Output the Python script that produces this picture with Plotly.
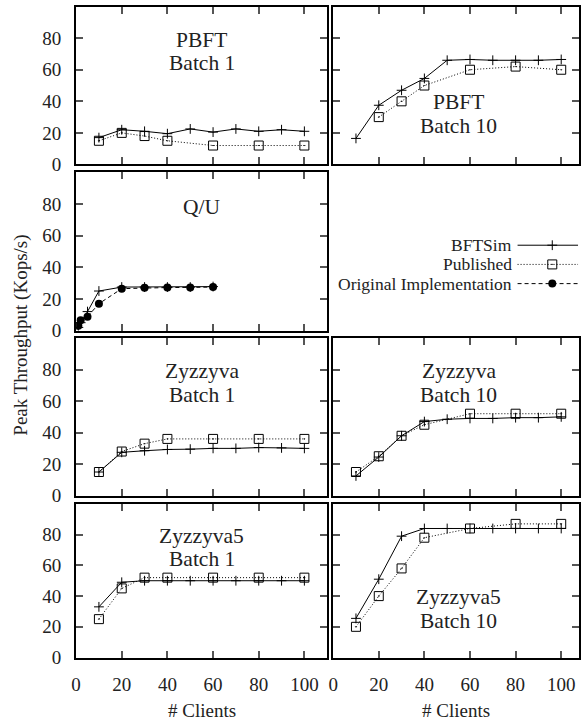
import plotly.graph_objects as go

# ---------------- data ----------------
clients_sim = [10, 20, 30, 40, 50, 60, 70, 80, 90, 100]
clients_pub = [10, 20, 30, 40, 60, 80, 100]
clients_pub_pbft10 = [20, 30, 40, 60, 80, 100]
clients_qu = [1, 2, 5, 10, 20, 30, 40, 50, 60]

pbft_b1_sim = [17, 22, 21, 19.5, 22.5, 20.5, 22.5, 21, 22, 21]
pbft_b1_pub = [15, 20, 18, 15, 12, 12, 12]

pbft_b10_sim = [16.5, 37.5, 47, 54.5, 66, 66.5, 66, 66, 66, 66.5]
pbft_b10_pub = [30, 40, 50, 60, 62, 60]

qu_sim = [2, 5, 12, 25, 27.5, 27.5, 27.5, 27.5, 27.8]
qu_orig = [3, 6.5, 8.8, 17, 26.5, 27, 27.2, 27.3, 27.5]

zyz_b1_sim = [15, 27.5, 28.5, 29.3, 29.5, 30, 30, 30.5, 30.3, 30]
zyz_b1_pub = [15, 28, 33, 36, 36, 36, 36]

zyz_b10_sim = [12.5, 24.5, 38, 47, 48.5, 49, 49, 49.5, 49.5, 50]
zyz_b10_pub = [15, 25, 38, 45, 52, 52, 52]

zyz5_b1_sim = [33, 49, 50, 50, 50, 50, 50, 50, 50, 50]
zyz5_b1_pub = [25, 45, 52, 52, 52, 52, 52]

zyz5_b10_sim = [25.5, 51, 79, 84, 84, 84, 84, 84, 84, 84]
zyz5_b10_pub = [20, 40, 58, 78, 84, 87, 87]

x_ticks = [0, 20, 40, 60, 80, 100]
y_ticks = [0, 20, 40, 60, 80]

# ---------------- layout geometry ----------------
W, H = 584, 723
FONT = "Liberation Serif, Times New Roman, serif"
TXT = "#222222"


def px_x(v):
    return v / W


def px_y(v):
    return 1 - v / H


left_dom = [px_x(71.7), px_x(325)]
right_dom = [px_x(331), px_x(578.5)]
rows = [(6.7, 167), (175, 335.7), (343.3, 503.3), (511.7, 667.7)]
row_dom = [[px_y(b), px_y(t)] for t, b in rows]

fig = go.Figure()

SIM = dict(mode="lines+markers", line=dict(color="black", width=1),
           marker=dict(symbol="cross-thin-open", size=7, color="black",
                       line=dict(color="black", width=1)))
PUB = dict(mode="lines+markers", line=dict(color="black", width=1, dash="1px,2px"),
           marker=dict(symbol="square-open-dot", size=9, color="black",
                       line=dict(color="black", width=1)))
ORIG = dict(mode="lines+markers", line=dict(color="black", width=1, dash="4px,3px"),
            marker=dict(symbol="circle", size=8, color="black"))

# panel: (axis index, column, row, series list, title lines, title x, title y's)
panels = [
    (1, 0, 0, [(clients_sim, pbft_b1_sim, SIM), (clients_pub, pbft_b1_pub, PUB)],
     ["PBFT", "Batch 1"], 55, [78.8, 64]),
    (2, 1, 0, [(clients_sim, pbft_b10_sim, SIM), (clients_pub_pbft10, pbft_b10_pub, PUB)],
     ["PBFT", "Batch 10"], 55, [39.3, 24.5]),
    (3, 0, 1, [(clients_qu, qu_sim, SIM), (clients_qu, qu_orig, ORIG)],
     ["Q/U"], 55, [78]),
    (4, 0, 2, [(clients_sim, zyz_b1_sim, SIM), (clients_pub, zyz_b1_pub, PUB)],
     ["Zyzzyva", "Batch 1"], 55, [78.8, 64]),
    (5, 1, 2, [(clients_sim, zyz_b10_sim, SIM), (clients_pub, zyz_b10_pub, PUB)],
     ["Zyzzyva", "Batch 10"], 55, [78.8, 64]),
    (6, 0, 3, [(clients_sim, zyz5_b1_sim, SIM), (clients_pub, zyz5_b1_pub, PUB)],
     ["Zyzzyva5", "Batch 1"], 55, [79.3, 64]),
    (7, 1, 3, [(clients_sim, zyz5_b10_sim, SIM), (clients_pub, zyz5_b10_pub, PUB)],
     ["Zyzzyva5", "Batch 10"], 55, [39.3, 24]),
]

annotations = []
axis_common = dict(showgrid=False, zeroline=False, showline=True, linecolor="black",
                   linewidth=2, mirror="allticks", ticks="inside", ticklen=7,
                   tickwidth=1.5, tickcolor="#555555",
                   tickfont=dict(family=FONT, size=19, color=TXT))

for idx, col, row, series, titles, tx, tys in panels:
    sfx = "" if idx == 1 else str(idx)
    xname, yname = "xaxis" + sfx, "yaxis" + sfx
    xref, yref = "x" + sfx, "y" + sfx
    for xs, ys, style in series:
        fig.add_trace(go.Scatter(x=xs, y=ys, xaxis=xref, yaxis=yref,
                                 showlegend=False, hoverinfo="skip", **style))
    fig.update_layout(**{
        xname: dict(axis_common, domain=left_dom if col == 0 else right_dom,
                    range=[0, 110] if col == 0 else [0, 107.6],
                    tickvals=x_ticks, showticklabels=(row == 3),
                    ticklabelstandoff=9, anchor=yref),
        yname: dict(axis_common, domain=row_dom[row], range=[0, 100],
                    tickvals=y_ticks, showticklabels=(col == 0),
                    ticklabelstandoff=9, anchor=xref),
    })
    for text, ty in zip(titles, tys):
        annotations.append(dict(text=text, x=tx, y=ty, xref=xref, yref=yref,
                                showarrow=False, xanchor="center", yanchor="middle",
                                font=dict(family=FONT, size=21.5, color=TXT)))

# legend key drawn in the empty panel (pixel-like coordinates)
legend_items = ["BFTSim", "Published", "Original Implementation"]
legend_styles = [SIM, PUB, ORIG]
legend_rows = [249, 268.5, 288]
fig.update_layout(
    xaxis8=dict(domain=right_dom, range=[331, 578.5], visible=False, anchor="y8"),
    yaxis8=dict(domain=row_dom[1], range=[rows[1][1], rows[1][0]], visible=False,
                anchor="x8"),
)
for name, style, ry in zip(legend_items, legend_styles, legend_rows):
    fig.add_trace(go.Scatter(x=[517, 578], y=[ry, ry], xaxis="x8", yaxis="y8",
                             mode="lines", line=style["line"], showlegend=False,
                             hoverinfo="skip"))
    fig.add_trace(go.Scatter(x=[552], y=[ry], xaxis="x8", yaxis="y8",
                             mode="markers", marker=style["marker"], showlegend=False,
                             hoverinfo="skip"))
    annotations.append(dict(text=name, x=513.3, y=ry, xref="x8", yref="y8",
                            showarrow=False, xanchor="right", yanchor="middle",
                            font=dict(family=FONT, size=17.5, color=TXT)))

# axis titles
annotations.append(dict(text="Peak Throughput (Kops/s)", x=px_x(16), y=px_y(340),
                        xref="paper", yref="paper", textangle=-90, showarrow=False,
                        xanchor="center", yanchor="middle",
                        font=dict(family=FONT, size=19, color=TXT)))
for dom in (left_dom, right_dom):
    annotations.append(dict(text="# Clients", x=(dom[0] + dom[1]) / 2, y=0,
                            xref="paper", yref="paper", showarrow=False,
                            xanchor="center", yanchor="bottom", yshift=-11,
                            font=dict(family=FONT, size=19, color=TXT)))

fig.update_layout(width=W, height=H, margin=dict(l=0, r=0, t=0, b=0),
                  paper_bgcolor="white", plot_bgcolor="white",
                  annotations=annotations, showlegend=False)

fig.write_html("out.html")
